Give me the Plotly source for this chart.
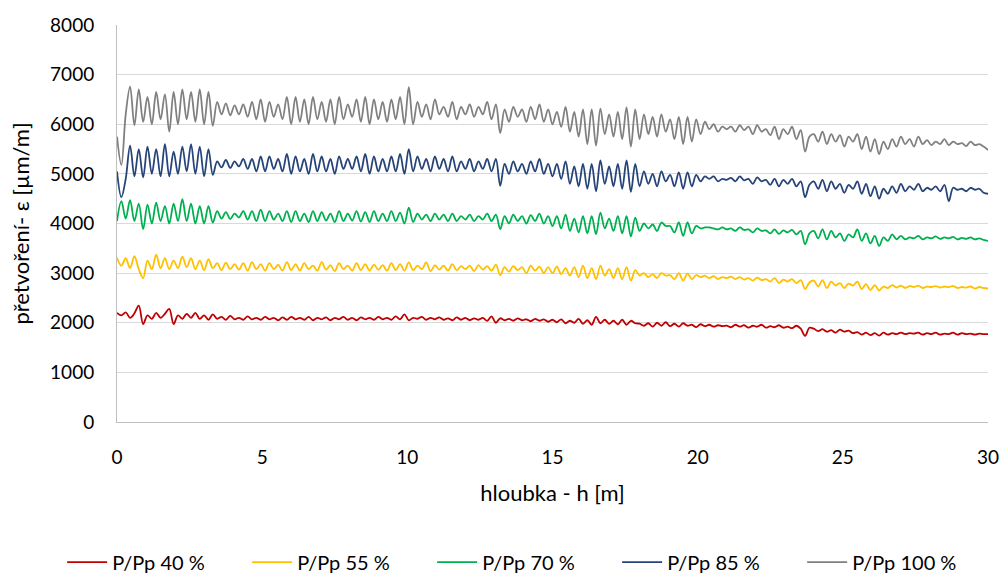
import plotly.graph_objects as go

# depth grid (m), sampling step 0.15 m
depth = [round(i * 0.15, 2) for i in range(201)]

p100 = [
    5750, 5180, 6200, 6760, 5980, 6700, 6050, 6550, 6000, 6650, 6100, 6600, 5850, 6650, 6000, 6700, 6100, 6650, 6050, 6700,
    6000, 6650, 5970, 6450, 6200, 6420, 6180, 6380, 6200, 6400, 6150, 6450, 6100, 6500, 6050, 6450, 6150, 6400, 6100, 6550,
    6000, 6550, 6050, 6500, 6000, 6550, 6100, 6450, 6050, 6500, 6000, 6550, 6100, 6400, 6150, 6500, 6050, 6550, 6000, 6500,
    6100, 6450, 6050, 6500, 6100, 6550, 6000, 6750, 6000, 6450, 6150, 6400, 6100, 6500, 6200, 6350, 6150, 6450, 6100, 6350,
    6200, 6400, 6150, 6350, 6200, 6450, 6100, 6400, 5820, 6300, 6050, 6350, 6150, 6300, 6050, 6350, 6100, 6400, 6050, 6300,
    6000, 6250, 5950, 6350, 5850, 6250, 5750, 6300, 5600, 6300, 5570, 6315, 5800, 6200, 5750, 6250, 5700, 6340, 5550, 6300,
    5700, 6200, 5800, 6150, 5750, 6200, 5850, 6100, 5700, 6150, 5600, 6150, 5650, 6100, 5800, 6050, 5900, 6000, 5850, 5950,
    5900, 5950, 5850, 5980, 5880, 5950, 5800, 5980, 5850, 5900, 5780, 5950, 5700, 5900, 5800, 5950, 5700, 5880, 5450, 5750,
    5800, 5650, 5850, 5600, 5800, 5650, 5780, 5550, 5750, 5650, 5800, 5500, 5750, 5450, 5700, 5400, 5650, 5500, 5700, 5550,
    5750, 5600, 5700, 5550, 5750, 5600, 5680, 5580, 5650, 5600, 5700, 5580, 5650, 5600, 5620, 5560, 5650, 5580, 5600, 5550,
    5480,
]

p85 = [
    5050, 4530, 4900, 5570, 4950, 5500, 4930, 5550, 5000, 5500, 4950, 5600, 4950, 5450, 5000, 5550, 5050, 5600, 5000, 5550,
    4950, 5500, 4980, 5250, 5130, 5280, 5120, 5250, 5150, 5300, 5100, 5300, 5050, 5350, 5050, 5350, 5100, 5300, 5050, 5400,
    5000, 5350, 5050, 5300, 5000, 5400, 5050, 5350, 5050, 5300, 5000, 5350, 5100, 5300, 5100, 5350, 5050, 5400, 5000, 5350,
    5050, 5300, 5050, 5350, 5050, 5400, 5000, 5500, 5050, 5350, 5100, 5300, 5050, 5350, 5100, 5300, 5050, 5350, 5050, 5250,
    5100, 5300, 5050, 5250, 5100, 5300, 5050, 5300, 4760, 5200, 5000, 5250, 5050, 5200, 5000, 5250, 5050, 5300, 5000, 5200,
    4950, 5200, 4900, 5250, 4800, 5150, 4750, 5200, 4700, 5200, 4650, 5270, 4800, 5150, 4750, 5200, 4700, 5270, 4640, 5200,
    4750, 5050, 4800, 5000, 4750, 5050, 4850, 4980, 4750, 5030, 4700, 5030, 4750, 4980, 4850, 4950, 4900, 4950, 4850, 4900,
    4880, 4920, 4850, 4950, 4870, 4900, 4800, 4930, 4850, 4880, 4780, 4900, 4750, 4880, 4800, 4900, 4750, 4850, 4530, 4780,
    4850, 4700, 4880, 4650, 4850, 4700, 4800, 4620, 4780, 4700, 4850, 4600, 4800, 4550, 4750, 4500, 4700, 4600, 4750, 4620,
    4800, 4650, 4750, 4680, 4800, 4650, 4720, 4680, 4750, 4650, 4780, 4450, 4720, 4680, 4700, 4650, 4720, 4680, 4700, 4620,
    4600,
]

p70 = [
    4050, 4450, 4100, 4470, 4050, 4400, 3885, 4380, 4000, 4420, 4050, 4350, 4000, 4400, 4050, 4490, 4050, 4400, 4000, 4350,
    4000, 4350, 4020, 4250, 4100, 4230, 4090, 4200, 4120, 4250, 4080, 4250, 4050, 4280, 4050, 4250, 4080, 4200, 4050, 4250,
    4030, 4250, 4050, 4200, 4030, 4250, 4050, 4230, 4060, 4200, 4030, 4250, 4050, 4200, 4060, 4250, 4040, 4230, 4030, 4250,
    4050, 4200, 4050, 4250, 4050, 4220, 4000, 4320, 4030, 4200, 4080, 4180, 4050, 4200, 4080, 4180, 4050, 4200, 4050, 4150,
    4080, 4180, 4050, 4150, 4080, 4200, 4050, 4180, 3885, 4150, 4000, 4180, 4050, 4150, 4000, 4170, 4050, 4200, 4000, 4150,
    3950, 4150, 3900, 4180, 3850, 4100, 3820, 4150, 3800, 4150, 3785, 4220, 3900, 4100, 3850, 4150, 3800, 4150, 3740, 4120,
    3850, 4000, 3900, 3980, 3850, 4020, 3950, 3950, 3820, 4020, 3750, 4020, 3800, 3950, 3900, 3920, 3920, 3900, 3880, 3920,
    3880, 3900, 3850, 3920, 3870, 3880, 3820, 3900, 3850, 3860, 3800, 3880, 3790, 3860, 3820, 3870, 3780, 3850, 3580, 3800,
    3850, 3700, 3880, 3680, 3850, 3720, 3800, 3650, 3780, 3720, 3880, 3650, 3800, 3600, 3750, 3550, 3720, 3650, 3780, 3680,
    3750, 3680, 3720, 3700, 3750, 3680, 3720, 3700, 3740, 3690, 3720, 3700, 3730, 3680, 3710, 3690, 3720, 3680, 3700, 3670,
    3650,
]

p55 = [
    3310, 3150, 3300, 3100, 3340, 3080, 2900, 3250, 3080, 3370, 3100, 3300, 3080, 3250, 3100, 3330, 3120, 3300, 3080, 3250,
    3060, 3280, 3100, 3200, 3060, 3210, 3080, 3180, 3070, 3200, 3050, 3220, 3080, 3180, 3050, 3200, 3080, 3170, 3050, 3220,
    3060, 3180, 3050, 3200, 3080, 3150, 3050, 3220, 3070, 3160, 3040, 3200, 3080, 3150, 3050, 3200, 3060, 3180, 3050, 3170,
    3070, 3160, 3050, 3200, 3060, 3180, 3050, 3215, 3060, 3150, 3080, 3215, 3040, 3160, 3070, 3150, 3050, 3180, 3060, 3140,
    3080, 3150, 3040, 3160, 3070, 3140, 3050, 3170, 2960, 3120, 3030, 3140, 3060, 3120, 3000, 3150, 3050, 3130, 3000, 3120,
    3000, 3130, 2980, 3100, 2950, 3120, 2920, 3150, 2900, 3100, 2880, 3150, 2950, 3080, 2900, 3100, 2880, 3120, 2850, 3060,
    2950, 3000, 2920, 2980, 2900, 3000, 2950, 2960, 2880, 3000, 2850, 2990, 2880, 2960, 2920, 2950, 2900, 2940, 2880, 2920,
    2900, 2930, 2880, 2920, 2870, 2900, 2850, 2910, 2860, 2880, 2830, 2900, 2800, 2870, 2830, 2880, 2800, 2860, 2680, 2810,
    2850, 2730, 2860, 2700, 2830, 2750, 2800, 2700, 2790, 2750, 2830, 2680, 2780, 2660, 2760, 2650, 2730, 2700, 2760, 2710,
    2750, 2700, 2740, 2720, 2750, 2700, 2730, 2720, 2740, 2710, 2730, 2720, 2740, 2700, 2720, 2710, 2730, 2690, 2720, 2700,
    2690,
]

p40 = [
    2200, 2150, 2210, 2100, 2190, 2345, 1975, 2150, 2080, 2200, 2100, 2180, 2280, 1975, 2150, 2080, 2180, 2100, 2200, 2080,
    2150, 2060, 2170, 2080, 2120, 2060, 2140, 2070, 2100, 2060, 2130, 2070, 2100, 2060, 2120, 2070, 2100, 2050, 2110, 2060,
    2120, 2070, 2100, 2060, 2120, 2050, 2100, 2070, 2110, 2050, 2100, 2070, 2120, 2060, 2100, 2050, 2110, 2070, 2100, 2060,
    2120, 2070, 2100, 2060, 2130, 2070, 2170, 2050, 2100, 2080, 2120, 2060, 2100, 2070, 2110, 2060, 2090, 2050, 2110, 2060,
    2100, 2050, 2090, 2060, 2100, 2040, 2130, 2000, 2090, 2050, 2080, 2040, 2090, 2050, 2070, 2030, 2080, 2040, 2070, 2020,
    2060, 2010, 2070, 1990, 2040, 2000, 2080, 1980, 2050, 1960, 2120, 1990, 2060, 1980, 2040, 1970, 2060, 1960, 2040, 1990,
    1980, 1940, 1990, 1920, 2000, 1940, 2010, 1930, 1980, 1920, 1990, 1940, 1960, 1910, 1970, 1930, 1960, 1920, 1950, 1930,
    1940, 1910, 1960, 1920, 1950, 1900, 1940, 1920, 1960, 1900, 1930, 1910, 1950, 1900, 1920, 1890, 1940, 1880, 1735, 1900,
    1880, 1830, 1870, 1820, 1850, 1800, 1860, 1820, 1840, 1790, 1810, 1760, 1800, 1750, 1790, 1740, 1800, 1760, 1790, 1770,
    1800, 1770, 1790, 1780, 1800, 1760, 1790, 1770, 1800, 1760, 1780, 1770, 1800, 1760, 1790, 1770, 1780, 1760, 1780, 1770,
    1770,
]

series_names = ["P/Pp 40 %", "P/Pp 55 %", "P/Pp 70 %", "P/Pp 85 %", "P/Pp 100 %"]
series_values = [p40, p55, p70, p85, p100]
colors = ["#C00000", "#FFC000", "#00B050", "#264478", "#808080"]

x_ticks = [0, 5, 10, 15, 20, 25, 30]
y_ticks = [0, 1000, 2000, 3000, 4000, 5000, 6000, 7000, 8000]

FONT = "Lato"

fig = go.Figure()
for name, vals, col in zip(series_names, series_values, colors):
    fig.add_trace(go.Scatter(x=depth, y=vals, mode="lines", name=name,
                             line=dict(color=col, width=1.8, shape="spline", smoothing=1.0)))

fig.update_layout(
    width=1003, height=573,
    margin=dict(l=117, r=15, t=25, b=151, autoexpand=False),
    paper_bgcolor="white", plot_bgcolor="white",
    font=dict(family=FONT, size=19, color="#000000"),
    showlegend=True,
    legend=dict(orientation="h", x=-0.063, xanchor="left", y=-0.353, yanchor="middle",
                font=dict(family=FONT, size=20, color="#000000"),
                entrywidth=130, itemwidth=40, bgcolor="rgba(0,0,0,0)"),
)
fig.update_xaxes(
    range=[0, 30], tickvals=x_ticks, ticktext=[str(v) for v in x_ticks],
    showgrid=False, zeroline=False, showline=True, linecolor="#BFBFBF", linewidth=1,
    ticks="", ticklabelstandoff=18, automargin=False,
    tickfont=dict(family=FONT, size=19),
    title=dict(text="hloubka - h [m]", font=dict(family=FONT, size=22), standoff=18),
)
fig.update_yaxes(
    range=[0, 8000], tickvals=y_ticks, ticktext=[str(v) for v in y_ticks],
    showgrid=True, gridcolor="#D9D9D9", gridwidth=1, zeroline=False,
    showline=True, linecolor="#BFBFBF", linewidth=1,
    ticks="", ticklabelstandoff=18, automargin=False,
    tickfont=dict(family=FONT, size=19),
    title=dict(text="přetvoření- ε [µm/m]", font=dict(family=FONT, size=22), standoff=14),
)

fig.write_html("out.html")
